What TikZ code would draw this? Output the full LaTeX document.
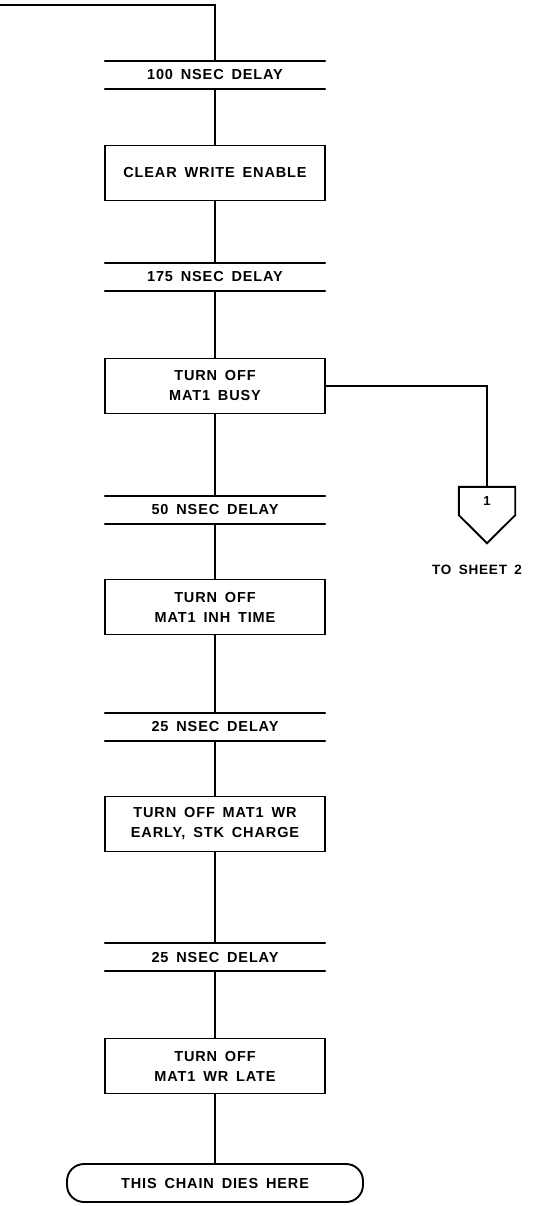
\documentclass[tikz,border=0pt]{standalone}
\usepackage{fontspec}
\setmainfont{Liberation Sans}
\newfontfamily\plotfont[LetterSpace=6, WordSpace=1.6]{Liberation Sans}
\usetikzlibrary{calc}

\begin{document}
\begin{tikzpicture}[x=1pt, y=-1pt,
  flow/.style={line width=1.9pt, line cap=round},
  delay/.style={minimum width=220, minimum height=28, inner sep=0pt,
  font=\plotfont\bfseries\fontsize{14.5}{16}\selectfont},
  act/.style={draw, line width=1.9pt, minimum width=220, minimum height=55,
  align=center, inner sep=0pt, font=\plotfont\bfseries\fontsize{14.5}{20}\selectfont},
  term/.style={draw, line width=1.9pt, rounded corners=17, minimum width=296,
  minimum height=38, font=\plotfont\bfseries\fontsize{14.5}{16}\selectfont}
]
\useasboundingbox (0,0) rectangle (555,1206);

\coordinate (entry) at (0,5);
\node[delay] (d1) at (215,75)  {100 NSEC DELAY};
\node[act]   (b1) at (215,173) {CLEAR WRITE ENABLE};
\node[delay] (d2) at (215,277) {175 NSEC DELAY};
\node[act]   (b2) at (215,386) {TURN OFF\\MAT1 BUSY};
\node[delay] (d3) at (215,510) {50 NSEC DELAY};
\node[act]   (b3) at (215,607) {TURN OFF\\MAT1 INH TIME};
\node[delay] (d4) at (215,727) {25 NSEC DELAY};
\node[act]   (b4) at (215,824) {TURN OFF MAT1 WR\\EARLY, STK CHARGE};
\node[delay] (d5) at (215,957) {25 NSEC DELAY};
\node[act]   (b5) at (215,1066) {TURN OFF\\MAT1 WR LATE};
\node[term]  (end) at (215,1183) {THIS CHAIN DIES HERE};

% off-page connector
\node[minimum width=56, minimum height=28, inner sep=0pt,
  font=\plotfont\bfseries\fontsize{13}{15}\selectfont] (conn) at (487,501) {1};
\draw[flow, line cap=butt] (conn.north west) -- (conn.north east) -- (conn.south east)
  -- ($(conn.south)+(0,28)$) -- (conn.south west) -- cycle;
\node[font=\plotfont\bfseries\fontsize{13.5}{15}\selectfont] (sheet) at (477,570) {TO SHEET 2};

% delay bars
\foreach \n in {d1,d2,d3,d4,d5} {
  \draw[flow] (\n.north west) -- (\n.north east);
  \draw[flow] (\n.south west) -- (\n.south east);
}

\draw[flow] (entry) -| (d1.north);
\draw[flow] (d1) -- (b1);
\draw[flow] (b1) -- (d2);
\draw[flow] (d2) -- (b2);
\draw[flow] (b2) -- (d3);
\draw[flow] (d3) -- (b3);
\draw[flow] (b3) -- (d4);
\draw[flow] (d4) -- (b4);
\draw[flow] (b4) -- (d5);
\draw[flow] (d5) -- (b5);
\draw[flow] (b5) -- (end);
\draw[flow] (b2.east) -| (conn.north);
\end{tikzpicture}
\end{document}
